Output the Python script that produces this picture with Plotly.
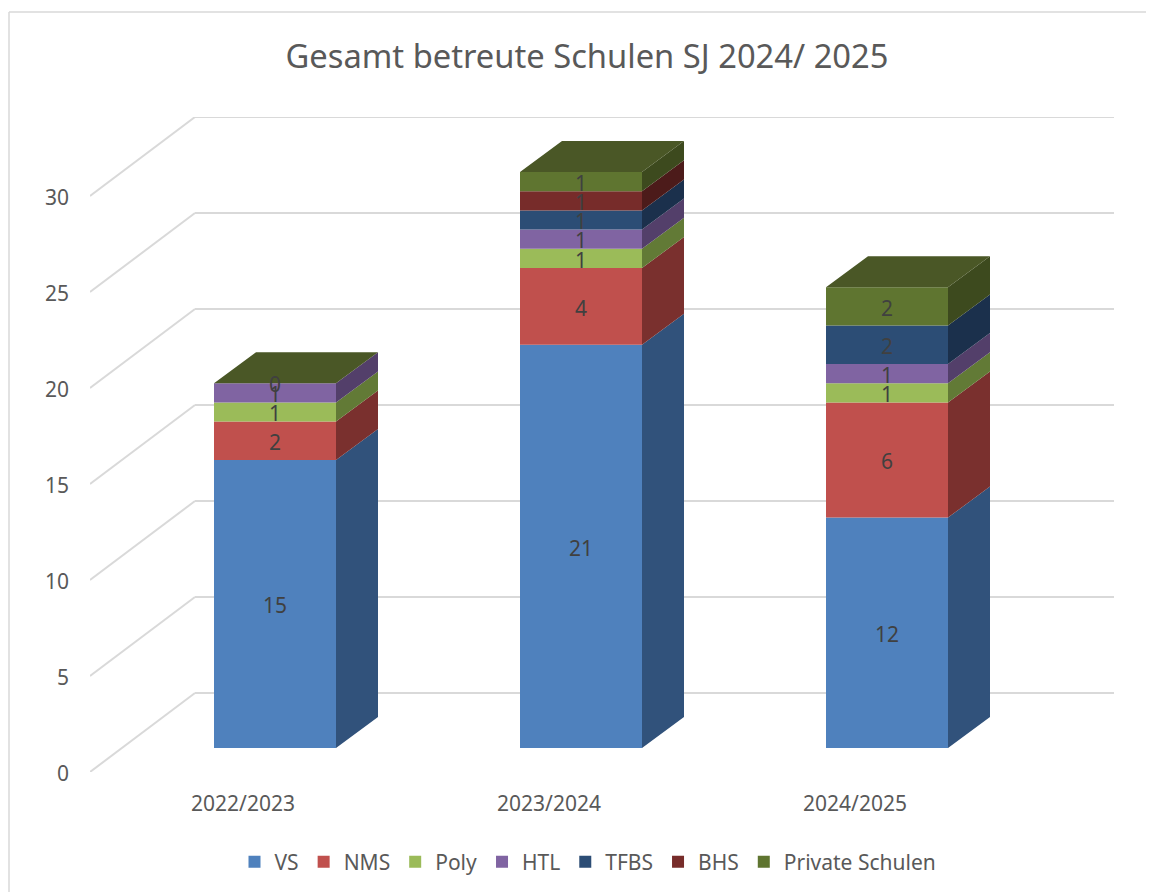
import plotly.graph_objects as go

# --- data ---
years = ["2022/2023", "2023/2024", "2024/2025"]
series_names = ["VS", "NMS", "Poly", "HTL", "TFBS", "BHS", "Private Schulen"]
VS = [15, 21, 12]
NMS = [2, 4, 6]
Poly = [1, 1, 1]
HTL = [1, 1, 1]
TFBS = [None, 1, 2]
BHS = [None, 1, None]
Private = [0, 1, 2]
y_ticks = [0, 5, 10, 15, 20, 25, 30]
title = "Gesamt betreute Schulen SJ 2024/ 2025"

# --- style ---
front_colors = ["#4F81BD", "#C0504D", "#9BBB59", "#8064A2", "#2C4D75", "#772C2A", "#5F7530"]
side_colors = ["#31527B", "#7A302E", "#627A36", "#533F6A", "#1B304C", "#4C1B1A", "#3D4A1E"]
top_color = "#4A5726"
grid_color = "#D9D9D9"
font = "Noto Sans"

# --- projection (axis units per wall depth) ---
PX_X = 306.0      # pixels per category
PX_Y = 19.2       # pixels per value unit
WALL_DX, WALL_DY = 105 / PX_X, 79 / PX_Y
BAR_DX, BAR_DY = 32 / PX_X, 24 / PX_Y
SIDE_DX, SIDE_DY = 42 / PX_X, 31 / PX_Y
BAR_W = 122 / PX_X
LABEL_DROP = 4 / PX_Y

PAGE = 8  # page body margin
W, H = 1154 - PAGE, 892 - PAGE
L, R, T, B = 90 - PAGE, 1114 - PAGE, 117 - PAGE, 772 - PAGE
x_range = [-0.5, -0.5 + (R - L) / PX_X]
y_range = [0, (B - T) / PX_Y]

columns = [VS, NMS, Poly, HTL, TFBS, BHS, Private]
fig = go.Figure()

# wall gridlines
shapes = []
for t in y_ticks:
    shapes.append(dict(type="line", layer="below", xref="x", yref="y",
                       x0=x_range[0], y0=t, x1=x_range[0] + WALL_DX, y1=t + WALL_DY,
                       line=dict(color=grid_color, width=2)))
    shapes.append(dict(type="line", layer="below", xref="x", yref="y",
                       x0=x_range[0] + WALL_DX, y0=t + WALL_DY, x1=x_range[1], y1=t + WALL_DY,
                       line=dict(color=grid_color, width=2)))
# outer chart frame
frame_x0 = (9 - PAGE - L) / (R - L)
frame_y1 = (B - (12 - PAGE)) / (B - T)
shapes.append(dict(type="line", xref="paper", yref="paper", layer="below",
                   x0=frame_x0, x1=frame_x0, y0=(B - H) / (B - T), y1=frame_y1,
                   line=dict(color=grid_color, width=1.5)))
shapes.append(dict(type="line", xref="paper", yref="paper", layer="below",
                   x0=frame_x0, x1=(W - L) / (R - L), y0=frame_y1, y1=frame_y1,
                   line=dict(color=grid_color, width=1.5)))

cum = [0.0] * len(years)
xs_center = [i + BAR_DX for i in range(len(years))]
label_x, label_y, label_text = [], [], []

for name, vals, fc, sc in zip(series_names, columns, front_colors, side_colors):
    bases = [c + BAR_DY for c in cum]
    fig.add_trace(go.Bar(x=xs_center, y=[v or 0 for v in vals], base=bases, name=name,
                         width=BAR_W, marker=dict(color=fc, line=dict(width=0)),
                         hoverinfo="skip"))
    sx, sy = [], []
    for i, v in enumerate(vals):
        if v is None:
            continue
        xr = xs_center[i] + BAR_W / 2
        lo, hi = bases[i], bases[i] + v
        sx += [xr, xr + SIDE_DX, xr + SIDE_DX, xr, xr, None]
        sy += [lo, lo + SIDE_DY, hi + SIDE_DY, hi, lo, None]
        label_x.append(xs_center[i])
        label_y.append((lo + hi) / 2 - LABEL_DROP)
        label_text.append(str(v))
        cum[i] += v
    fig.add_trace(go.Scatter(x=sx, y=sy, mode="lines", fill="toself", fillcolor=sc,
                             line=dict(width=0, color=sc), showlegend=False, hoverinfo="skip"))

# top faces
tx, ty = [], []
for i, c in enumerate(cum):
    xl, xr = xs_center[i] - BAR_W / 2, xs_center[i] + BAR_W / 2
    y0 = c + BAR_DY
    tx += [xl, xr, xr + SIDE_DX, xl + SIDE_DX, xl, None]
    ty += [y0, y0, y0 + SIDE_DY, y0 + SIDE_DY, y0, None]
fig.add_trace(go.Scatter(x=tx, y=ty, mode="lines", fill="toself", fillcolor=top_color,
                         line=dict(width=0, color=top_color), showlegend=False, hoverinfo="skip"))

# data labels
fig.add_trace(go.Scatter(x=label_x, y=label_y, text=label_text, mode="text",
                         textposition="middle center",
                         textfont=dict(family=font, size=21, color="#404040"),
                         showlegend=False, hoverinfo="skip"))

fig.update_layout(
    width=W, height=H, autosize=False,
    margin=dict(l=L, r=W - R, t=T, b=H - B, pad=0, autoexpand=False),
    paper_bgcolor="white", plot_bgcolor="white",
    barmode="overlay",
    shapes=shapes,
    title=dict(text=title, x=(587 - PAGE) / W, xanchor="center", y=1 - (57 - PAGE) / H, yanchor="middle",
               font=dict(family=font, size=32.7, color="#595959")),
    xaxis=dict(range=x_range, tickmode="array", tickvals=list(range(len(years))), ticktext=years,
               showgrid=False, zeroline=False, showline=False, ticks="", automargin=False,
               ticklabelstandoff=17, tickfont=dict(family=font, size=21, color="#595959")),
    yaxis=dict(range=y_range, tickmode="array", tickvals=y_ticks,
               showgrid=False, zeroline=False, showline=False, ticks="", automargin=False,
               ticklabelstandoff=20, ticklabelshift=2,
               tickfont=dict(family=font, size=21, color="#595959")),
    legend=dict(orientation="h", x=(588 - PAGE - L) / (R - L), xanchor="center",
                y=-(862 - PAGE - B) / (B - T), yanchor="middle",
                font=dict(family=font, size=21, color="#595959"), traceorder="normal"),
    showlegend=True,
)
fig.write_html("out.html")
